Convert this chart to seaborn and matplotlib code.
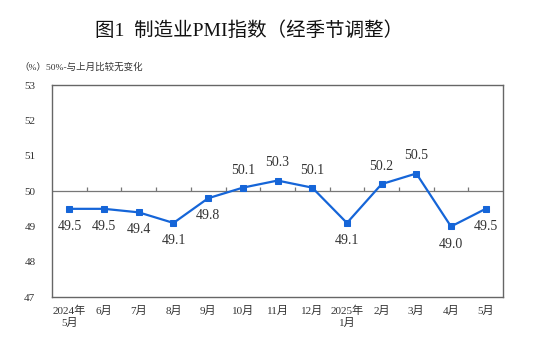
import numpy as np
import pandas as pd
import seaborn as sns
import matplotlib.pyplot as plt

months = ['2024年\n5月', '6月', '7月', '8月', '9月', '10月', '11月', '12月',
          '2025年\n1月', '2月', '3月', '4月', '5月']
pmi = [49.5, 49.5, 49.4, 49.1, 49.8, 50.1, 50.3, 50.1, 49.1, 50.2, 50.5, 49.0, 49.5]
yticks = [47, 48, 49, 50, 51, 52, 53]

sns.set_style('white')
plt.rcParams['font.family'] = ['Liberation Serif', 'Noto Sans CJK SC']
plt.rcParams['axes.unicode_minus'] = False

df = pd.DataFrame({'month': months, 'pmi': pmi, 'pos': np.arange(len(months))})

fig = plt.figure(figsize=(5.54, 3.55), dpi=100)
ax = fig.add_axes([0.094, 0.163, 0.814, 0.597])
blue = '#1565d8'

# reference line at 50 with small ticks between months
ax.axhline(50, color='#777777', lw=0.9, zorder=1)
bounds = df['pos'].values[:-1] + 0.5
ax.vlines(bounds, 50, 50.12, color='#777777', lw=0.9, zorder=1)

sns.lineplot(data=df, x='pos', y='pmi', ax=ax, color=blue, lw=1.6,
             marker='s', markersize=5, markeredgecolor=blue, zorder=3)

for p, v in zip(df['pos'], df['pmi']):
    if v > 50:
        ax.annotate(f'{v:.1f}', (p, v), xytext=(0, 8), textcoords='offset points',
                    ha='center', va='bottom', fontsize=10, color='#333333')
    else:
        ax.annotate(f'{v:.1f}', (p, v), xytext=(0, -8), textcoords='offset points',
                    ha='center', va='top', fontsize=10, color='#333333')

ax.set_xlim(-0.5, len(months) - 0.5)
ax.set_ylim(47, 53)
ax.set_yticks(yticks)
ax.set_yticklabels([str(t) for t in yticks], fontsize=8, color='#333333')
ax.set_xticks(df['pos'])
ax.set_xticklabels(months, fontsize=8, color='#333333', linespacing=1.3)
ax.tick_params(axis='x', length=0, pad=6)
ax.tick_params(axis='y', direction='in', length=3, width=0.8, color='#555555', pad=12)
ax.set_xlabel('')
ax.set_ylabel('')
for s in ax.spines.values():
    s.set_color('#666666')
    s.set_linewidth(1.0)

fig.text(0.45, 0.915, '图1  制造业PMI指数（经季节调整）', ha='center', va='center',
         fontsize=14, color='#111111')
fig.text(0.035, 0.81, '（%）50%-与上月比较无变化', ha='left', va='center',
         fontsize=6.8, color='#333333')

fig.savefig('out.png', dpi=100)
